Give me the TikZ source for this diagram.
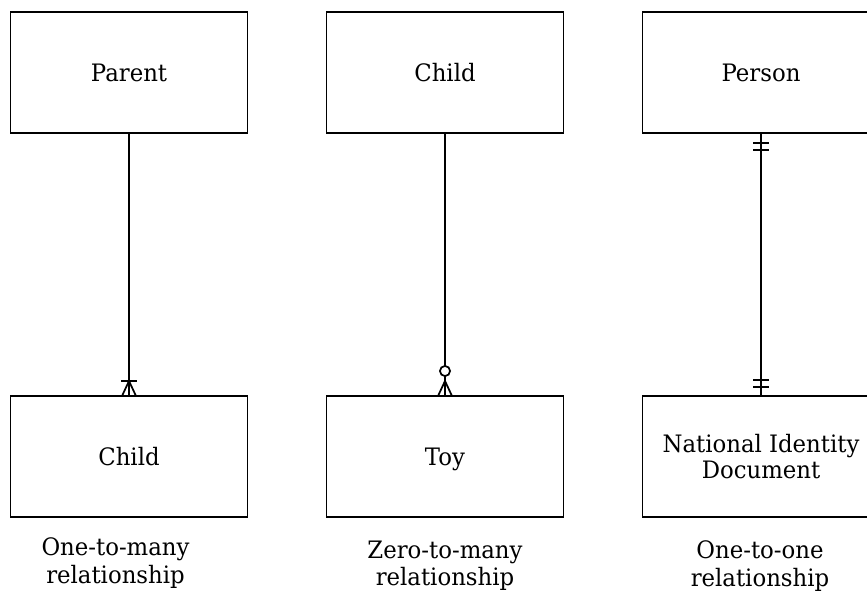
\documentclass[tikz,border=0pt]{standalone}
\usepackage{fontspec}
\setmainfont[FakeStretch=0.95]{DejaVu Serif}
\usetikzlibrary{positioning,calc}

\begin{document}
\begin{tikzpicture}[
    x=0.75pt, y=-0.75pt,
    entity/.style={rectangle, draw=black, line width=1.3pt, outer sep=0pt,
                   minimum width=177.75pt, minimum height=90.75pt,
                   align=center, font=\fontsize{18}{19.5}\selectfont},
    rel/.style={line width=1.3pt, black},
    note/.style={align=center, font=\fontsize{18}{20.5}\selectfont}
]
\useasboundingbox (0,0) rectangle (867,594);

% top row
\node[entity] (parent) at (129,72.5) {Parent};
\node[entity, right=59.25pt of parent] (child) {Child};
\node[entity, right=59.25pt of child] (person) {Person};

% bottom row
\node[entity, below=197.25pt of parent] (childB) {Child};
\node[entity, below=197.25pt of child, text depth=0pt] (toy) {Toy};
\node[entity, below=197.25pt of person] (nid) {National Identity\\Document};

% one-to-many
\draw[rel] (parent) -- (childB);
\draw[rel] ($(childB.north)+(-8,-15)$) -- ($(childB.north)+(8,-15)$);
\draw[rel] ($(childB.north)+(-7,0)$) -- ($(childB.north)+(0,-15)$) -- ($(childB.north)+(7,0)$);

% zero-to-many
\draw[rel] (child) -- (toy);
\draw[rel, fill=white] ($(toy.north)+(0,-25)$) circle[radius=3.8pt];
\draw[rel] ($(toy.north)+(-7,0)$) -- ($(toy.north)+(0,-15)$) -- ($(toy.north)+(7,0)$);

% one-to-one
\draw[rel] (person) -- (nid);
\foreach \d in {10,17}{
  \draw[rel] ($(person.south)+(-8,\d)$) -- ($(person.south)+(8,\d)$);
  \draw[rel] ($(nid.north)+(-8,-\d+1)$) -- ($(nid.north)+(8,-\d+1)$);
}

% captions
\node[note] (cap1) at (115.5,563) {One-to-many\\relationship};
\node[note] (cap2) at (445,566) {Zero-to-many\\relationship};
\node[note] (cap3) at (760,566) {One-to-one\\relationship};
\end{tikzpicture}
\end{document}
